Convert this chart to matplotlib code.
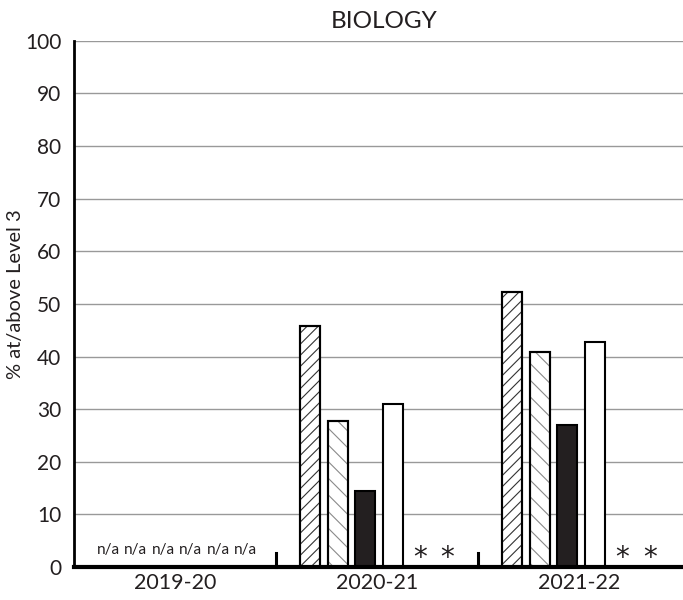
import numpy as np
import matplotlib
matplotlib.use('Agg')
import matplotlib.pyplot as plt

plt.rcParams['font.family'] = ['Lato', 'DejaVu Sans']
plt.rcParams['hatch.linewidth'] = 0.8

years = ['2019-20', '2020-21', '2021-22']
# six series per year; None = n/a, '*' = suppressed
s1 = [None, 45.8, 52.2]
s2 = [None, 27.7, 40.9]
s3 = [None, 14.5, 26.9]
s4 = [None, 30.9, 42.8]
s5 = [None, '*', '*']
s6 = [None, '*', '*']
series = [s1, s2, s3, s4, s5, s6]

styles = [
    dict(facecolor='white', hatch='///', edgecolor='#333333'),
    dict(facecolor='white', hatch='\\\\', edgecolor='#8a8a8a'),
    dict(facecolor='#231f20', hatch=None, edgecolor='black'),
    dict(facecolor='white', hatch=None, edgecolor='black'),
    dict(facecolor='white', hatch=None, edgecolor='black'),
    dict(facecolor='white', hatch=None, edgecolor='black'),
]

fig = plt.figure(figsize=(6.83, 6.0), dpi=100)
ax = fig.add_axes([0.108, 0.055, 0.892, 0.877])

ax.set_ylim(0, 100)
ax.set_xlim(0, 3.015)
ax.set_yticks(np.arange(0, 101, 10))
ax.yaxis.grid(True, color='#999999', linewidth=1.0)
ax.set_axisbelow(True)

step = 0.136
width = 0.098
for i, yr in enumerate(years):
    center = i + 0.51
    for k, s in enumerate(series):
        x = center + (k - 2.5) * step
        v = s[i]
        if v is None:
            ax.text(x, 3.2, 'n/a', ha='center', va='center', fontsize=11, color='#231f20')
        elif v == '*':
            ax.text(x, -0.9, '*', ha='center', va='bottom', fontsize=20,
                    family='DejaVu Sans', color='#231f20', clip_on=False)
        else:
            st = styles[k]
            ax.bar(x, v, width=width, facecolor=st['facecolor'], edgecolor='black',
                   linewidth=1.5, zorder=3)
            if st['hatch']:
                ax.bar(x, v, width=width, facecolor='none', edgecolor=st['edgecolor'],
                       hatch=st['hatch'], linewidth=0, zorder=3)
                ax.bar(x, v, width=width, facecolor='none', edgecolor='black',
                       linewidth=1.5, zorder=4)

# group separators
for b in [1, 2]:
    ax.plot([b, b], [0, 2.7], color='black', linewidth=2.2, zorder=5, clip_on=False)

ax.set_xticks([0.5, 1.5, 2.5])
ax.set_xticklabels(years, fontsize=15.5, color='#231f20')
ax.tick_params(axis='x', length=0, pad=4)
ax.tick_params(axis='y', length=0, labelsize=15, labelcolor='#231f20', pad=9)

for sp in ['top', 'right']:
    ax.spines[sp].set_visible(False)
ax.spines['left'].set_linewidth(2)
ax.spines['bottom'].set_linewidth(3)
ax.spines['bottom'].set_zorder(6)

ax.set_ylabel('% at/above Level 3', fontsize=14.5, color='#231f20')
ax.yaxis.set_label_coords(-0.082, 0.519)
fig.text(0.562, 0.965, 'BIOLOGY', fontsize=17.5, color='#231f20', ha='center', va='center')

fig.savefig('out.png', dpi=100)
